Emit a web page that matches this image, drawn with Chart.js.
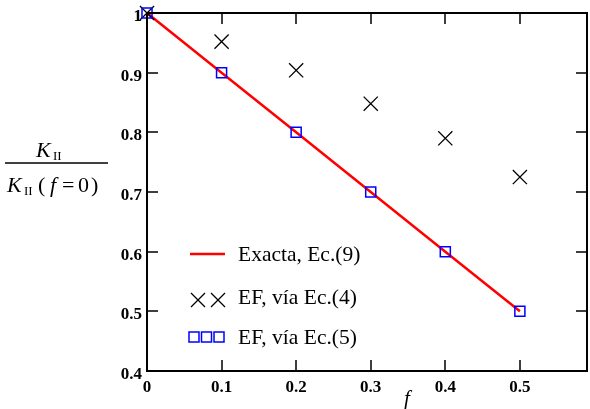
<!DOCTYPE html>
<html>
<head>
<meta charset="utf-8">
<script src="https://cdn.jsdelivr.net/npm/chart.js@4/dist/chart.umd.min.js"></script>
<style>
  html, body { margin: 0; padding: 0; background: #fff; }
  #wrap { width: 590px; height: 409px; }
</style>
</head>
<body>
<div id="wrap"><canvas id="grafico"></canvas></div>
<script>
// datos
const fValores = [0, 0.1, 0.2, 0.3, 0.4, 0.5];
const exacta   = [1, 0.9, 0.8, 0.7, 0.6, 0.5];
const efEc4    = [1, 0.952, 0.904, 0.848, 0.790, 0.725];
const efEc5    = [1, 0.9, 0.8, 0.7, 0.6, 0.5];
const ticksX   = [0, 0.1, 0.2, 0.3, 0.4, 0.5];
const ticksY   = [0.4, 0.5, 0.6, 0.7, 0.8, 0.9, 1];
const etiquetas = ['Exacta, Ec.(9)', 'EF, vía Ec.(4)', 'EF, vía Ec.(5)'];

const serif = '"Liberation Serif", "DejaVu Serif", serif';

const puntos = arr => fValores.map((f, i) => ({ x: f, y: arr[i] }));

const marco = {
    id: 'marco',
    afterDraw(chart) {
        const ctx = chart.ctx;
        const a = chart.chartArea;
        const sx = chart.scales.x, sy = chart.scales.y;
        ctx.save();
        ctx.strokeStyle = '#000';
        ctx.lineWidth = 2;
        ctx.strokeRect(a.left, a.top, a.right - a.left, a.bottom - a.top);

        // marcas hacia dentro
        ctx.lineWidth = 1.5;
        ticksX.forEach(v => {
            const px = Math.round(sx.getPixelForValue(v));
            ctx.beginPath();
            ctx.moveTo(px, a.bottom); ctx.lineTo(px, a.bottom - 11);
            ctx.moveTo(px, a.top);    ctx.lineTo(px, a.top + 11);
            ctx.stroke();
        });
        ticksY.forEach(v => {
            const py = Math.round(sy.getPixelForValue(v));
            ctx.beginPath();
            ctx.moveTo(a.left, py);  ctx.lineTo(a.left + 11, py);
            ctx.moveTo(a.right, py); ctx.lineTo(a.right - 11, py);
            ctx.stroke();
        });

        // titulo eje x
        ctx.fillStyle = '#000';
        ctx.font = 'italic 21px ' + serif;
        ctx.textAlign = 'center';
        ctx.textBaseline = 'alphabetic';
        ctx.fillText('f', 407, 405);

        // titulo eje y: K_II / K_II(f = 0)
        ctx.textAlign = 'left';
        ctx.font = 'italic 22px ' + serif;
        ctx.fillText('K', 36, 157);
        ctx.font = '13px ' + serif;
        ctx.fillText('II', 53, 160);
        ctx.beginPath();
        ctx.lineWidth = 1.3;
        ctx.moveTo(5, 163); ctx.lineTo(108, 163);
        ctx.stroke();
        ctx.font = 'italic 22px ' + serif;
        ctx.fillText('K', 7, 192);
        ctx.font = '13px ' + serif;
        ctx.fillText('II', 24, 195);
        ctx.font = '22px ' + serif;
        ctx.fillText('(', 38, 192);
        ctx.font = 'italic 22px ' + serif;
        ctx.fillText('f', 50, 192);
        ctx.font = '22px ' + serif;
        ctx.fillText('=', 62, 192);
        ctx.fillText('0', 78, 192);
        ctx.fillText(')', 91, 192);

        // leyenda
        ctx.font = '21.5px ' + serif;
        ctx.fillText(etiquetas[0], 238, 261);
        ctx.fillText(etiquetas[1], 238, 304);
        ctx.fillText(etiquetas[2], 238, 344);

        ctx.strokeStyle = '#ff0000';
        ctx.lineWidth = 2.5;
        ctx.beginPath();
        ctx.moveTo(190, 254); ctx.lineTo(225, 254);
        ctx.stroke();

        ctx.strokeStyle = '#000';
        ctx.lineWidth = 1.3;
        [198, 218].forEach(cx => {
            ctx.beginPath();
            ctx.moveTo(cx - 7, 293); ctx.lineTo(cx + 7, 307);
            ctx.moveTo(cx + 7, 293); ctx.lineTo(cx - 7, 307);
            ctx.stroke();
        });

        ctx.strokeStyle = '#0000ff';
        ctx.lineWidth = 1.5;
        [194, 206.5, 219].forEach(cx => {
            ctx.strokeRect(cx - 5, 332, 10, 10);
        });
        ctx.restore();
    }
};

new Chart(document.getElementById('grafico'), {
    type: 'scatter',
    data: {
        datasets: [
            {
                label: etiquetas[0], data: puntos(exacta), showLine: true, clip: false,
                borderColor: '#ff0000', borderWidth: 2.5, pointRadius: 0, order: 3
            },
            {
                label: etiquetas[1], data: puntos(efEc4), clip: false,
                pointStyle: 'crossRot', pointRadius: 10, pointBorderWidth: 1.3,
                borderColor: '#000', backgroundColor: '#000', order: 2
            },
            {
                label: etiquetas[2], data: puntos(efEc5), clip: false,
                pointStyle: 'rect', pointRadius: 7.1, pointBorderWidth: 1.5,
                borderColor: '#0000ff', backgroundColor: 'rgba(0,0,0,0)', order: 1
            }
        ]
    },
    options: {
        responsive: true, maintainAspectRatio: false, animation: false,
        layout: { autoPadding: false, padding: { top: 13, right: 3, left: 0, bottom: 0 } },
        plugins: { legend: { display: false }, tooltip: { enabled: false } },
        scales: {
            x: {
                type: 'linear', min: 0, max: 0.59,
                afterBuildTicks: s => { s.ticks = ticksX.map(v => ({ value: v })); },
                afterFit: s => { s.height = 38; s.paddingRight = 0; s.paddingLeft = 0; },
                grid: { display: false }, border: { display: false },
                ticks: {
                    color: '#000', padding: -2, maxRotation: 0,
                    font: { family: serif, size: 17, weight: 'bold' },
                    callback: v => String(v)
                }
            },
            y: {
                type: 'linear', min: 0.4, max: 1,
                afterBuildTicks: s => { s.ticks = ticksY.map(v => ({ value: v })); },
                afterFit: s => { s.width = 147; },
                grid: { display: false }, border: { display: false },
                ticks: {
                    color: '#000', padding: -3,
                    font: { family: serif, size: 17, weight: 'bold', lineHeight: '7px' },
                    // linea vacia para bajar un poco la etiqueta, como en el original
                    callback: v => ['', String(v)]
                }
            }
        }
    },
    plugins: [marco]
});
</script>
</body>
</html>
